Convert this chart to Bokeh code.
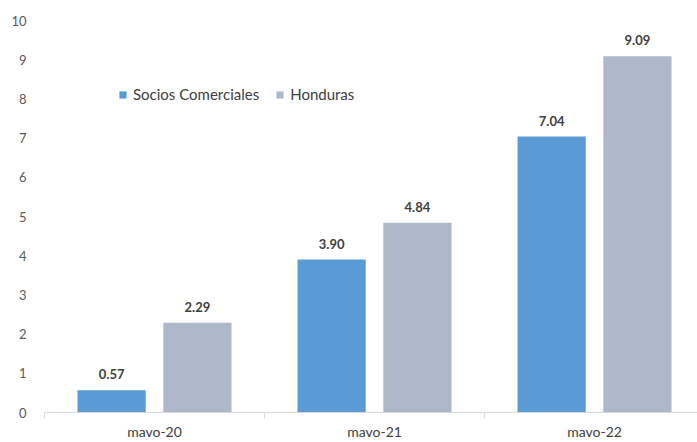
import numpy as np
from bokeh.plotting import figure
from bokeh.models import ColumnDataSource, FixedTicker, Range1d, Legend, LegendItem, LabelSet
from bokeh.core.properties import value
from bokeh.embed import file_html
from bokeh.resources import INLINE

categories = ["mavo-20", "mavo-21", "mavo-22"]
series_names = ["Socios Comerciales", "Honduras"]
socios = [0.57, 3.90, 7.04]
honduras = [2.29, 4.84, 9.09]
y_ticks = list(range(0, 11))

colors = ["#5B9BD5", "#ADB9CA"]
font = "Lato"

p = figure(width=697, height=442, output_backend="svg", toolbar_location=None,
           x_range=Range1d(0, 2.968), y_range=Range1d(0, 10),
           min_border_left=44, min_border_right=0, min_border_top=20, min_border_bottom=0)
p.outline_line_color = None
p.xgrid.grid_line_color = None
p.ygrid.grid_line_color = None

idx = np.arange(len(categories)) + 0.5
off = 0.195
bw = 0.31

renderers = []
for vals, col, sign in [(socios, colors[0], -1), (honduras, colors[1], 1)]:
    src = ColumnDataSource(dict(x=idx + sign * off, top=vals,
                                lab=[f"{v:.2f}" for v in vals]))
    r = p.vbar(x="x", top="top", width=bw, source=src, fill_color=col, line_color=None)
    renderers.append(r)
    labels = LabelSet(x="x", y="top", text="lab", source=src, text_align="center",
                      text_baseline="bottom", y_offset=11, text_font=value(font),
                      text_font_size=value("13px"), text_font_style=value("bold"),
                      text_color=value("#404040"))
    p.add_layout(labels)

legend = Legend(items=[LegendItem(label=series_names[0], renderers=[renderers[0]]),
                       LegendItem(label=series_names[1], renderers=[renderers[1]])],
                orientation="horizontal", location=(74, 309),
                border_line_color=None, background_fill_alpha=0,
                label_text_font=font, label_text_font_size="15px", label_text_color="#404040",
                glyph_width=9, glyph_height=9, label_standoff=6, spacing=16,
                padding=0, margin=0)
p.add_layout(legend)

p.xaxis.ticker = FixedTicker(ticks=list(idx), minor_ticks=[0, 1, 2, 3])
p.xaxis.major_label_overrides = {float(v): c for v, c in zip(idx, categories)}
p.xaxis.major_tick_line_color = None
p.xaxis.minor_tick_line_color = "#d9d9d9"
p.xaxis.minor_tick_in = 0
p.xaxis.minor_tick_out = 6
p.xaxis.axis_line_color = "#d9d9d9"
p.xaxis.major_label_text_font = font
p.xaxis.major_label_text_font_size = "14px"
p.xaxis.major_label_text_color = "#404040"
p.xaxis.major_label_standoff = 4

p.yaxis.ticker = FixedTicker(ticks=y_ticks)
p.yaxis.axis_line_color = None
p.yaxis.major_tick_line_color = None
p.yaxis.minor_tick_line_color = None
p.yaxis.major_label_text_font = font
p.yaxis.major_label_text_font_size = "13px"
p.yaxis.major_label_text_color = "#595959"
p.yaxis.major_label_standoff = 12

open("out.html", "w").write(file_html(p, INLINE))
